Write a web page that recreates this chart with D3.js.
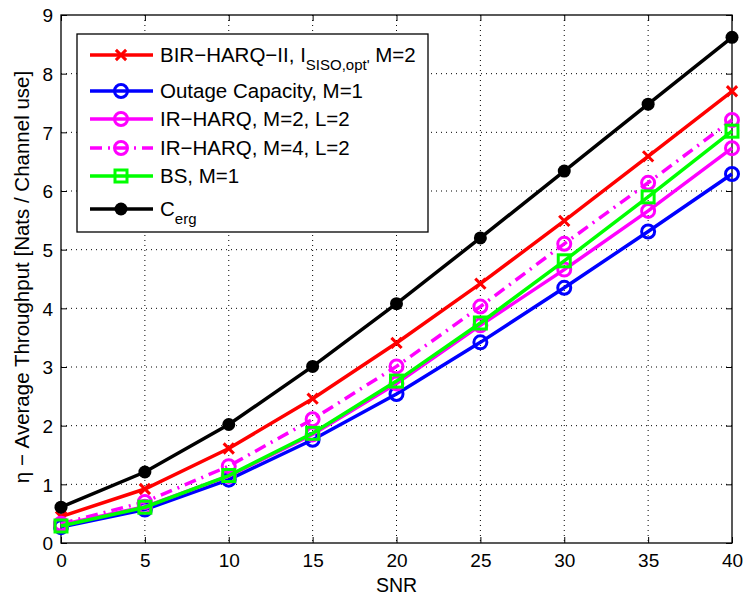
<!DOCTYPE html>
<html lang="en">
<head>
  <meta charset="UTF-8">
  <title>Average Throughput vs SNR</title>
  <style>
    body { margin: 0; background: #fff; }
    svg { display: block; font-family: "Liberation Sans", Arial, Helvetica, sans-serif; }
    .grid line { stroke: #000; stroke-width: 1; stroke-dasharray: 1, 4; }
    .tick-label { font-size: 19px; fill: #000; }
  </style>
</head>
<body>
  <script src="https://d3js.org/d3.v7.min.js"></script>
  <svg id="chart" width="744" height="598"></svg>
  <script>
    // data
    const snr = [0, 5, 10, 15, 20, 25, 30, 35, 40]
    const birHarq = [0.45, 0.92, 1.61, 2.46, 3.41, 4.42, 5.49, 6.59, 7.7]
    const outage = [0.27, 0.57, 1.08, 1.76, 2.54, 3.42, 4.35, 5.31, 6.29]
    const irHarq2 = [0.31, 0.62, 1.14, 1.85, 2.72, 3.71, 4.66, 5.66, 6.73]
    const irHarq4 = [0.33, 0.7, 1.31, 2.11, 3.01, 4.03, 5.1, 6.14, 7.21]
    const bs = [0.29, 0.61, 1.15, 1.87, 2.76, 3.75, 4.81, 5.9, 7.02]
    const cErg = [0.61, 1.21, 2.02, 3.01, 4.08, 5.2, 6.34, 7.48, 8.62]
    const xTicks = [0, 5, 10, 15, 20, 25, 30, 35, 40]
    const yTicks = [0, 1, 2, 3, 4, 5, 6, 7, 8, 9]

    const series = [
      {name: 'bir', values: birHarq, color: '#ff0000', marker: 'x', dash: null},
      {name: 'Outage Capacity, M=1', values: outage, color: '#0000ff', marker: 'o', dash: null},
      {name: 'IR\u2212HARQ, M=2, L=2', values: irHarq2, color: '#ff00ff', marker: 'o', dash: null},
      {name: 'IR\u2212HARQ, M=4, L=2', values: irHarq4, color: '#ff00ff', marker: 'o', dash: '12,6,2,6'},
      {name: 'BS, M=1', values: bs, color: '#00ff00', marker: 's', dash: null},
      {name: 'cerg', values: cErg, color: '#000000', marker: 'dot', dash: null}
    ]

    const margin = {top: 15, right: 12, bottom: 55, left: 61}
    const width = 744 - margin.left - margin.right
    const height = 598 - margin.top - margin.bottom

    const svg = d3.select('#chart')
    const g = svg.append('g').attr('transform', `translate(${margin.left},${margin.top})`)

    const x = d3.scaleLinear().domain([0, 40]).range([0, width])
    const y = d3.scaleLinear().domain([0, 9]).range([height, 0])

    // grid
    const grid = g.append('g').attr('class', 'grid')
    grid.selectAll('.gx').data(xTicks.slice(1, -1)).enter().append('line')
      .attr('x1', d => x(d)).attr('x2', d => x(d)).attr('y1', 0).attr('y2', height)
    grid.selectAll('.gy').data(yTicks.slice(1, -1)).enter().append('line')
      .attr('y1', d => y(d)).attr('y2', d => y(d)).attr('x1', 0).attr('x2', width)

    // axes (ticks pointing inward on all four sides)
    const tickLen = 6
    const xAxis = g.append('g').attr('transform', `translate(0,${height})`)
      .call(d3.axisBottom(x).tickValues(xTicks).tickSize(-tickLen).tickPadding(11))
    const xAxisTop = g.append('g')
      .call(d3.axisTop(x).tickValues(xTicks).tickSize(-tickLen).tickFormat(''))
    const yAxis = g.append('g')
      .call(d3.axisLeft(y).tickValues(yTicks).tickSize(-tickLen).tickPadding(8))
    const yAxisRight = g.append('g').attr('transform', `translate(${width},0)`)
      .call(d3.axisRight(y).tickValues(yTicks).tickSize(-tickLen).tickFormat(''))
    ;[xAxis, xAxisTop, yAxis, yAxisRight].forEach(a => {
      a.select('.domain').remove()
      a.selectAll('line').attr('stroke', '#000')
      a.selectAll('text').attr('class', 'tick-label').attr('font-family', null).attr('font-size', null)
    })
    yAxis.selectAll('text').attr('dy', '0.36em')

    g.append('rect').attr('width', width).attr('height', height)
      .attr('fill', 'none').attr('stroke', '#000').attr('stroke-width', 1.3)

    // marker helper
    function drawMarker(sel, type, color) {
      if (type === 'o') {
        sel.append('circle').attr('r', 6.5).attr('fill', 'none').attr('stroke', color).attr('stroke-width', 3)
      } else if (type === 'dot') {
        sel.append('circle').attr('r', 6.5).attr('fill', color)
      } else if (type === 's') {
        sel.append('rect').attr('x', -6).attr('y', -6).attr('width', 12).attr('height', 12)
          .attr('fill', 'none').attr('stroke', color).attr('stroke-width', 3)
      } else if (type === 'x') {
        sel.append('path').attr('d', d3.symbol(d3.symbolTimes, 70)())
          .attr('fill', 'none').attr('stroke', color).attr('stroke-width', 3)
      }
    }

    const line = d3.line().x((d, i) => x(snr[i])).y(d => y(d))

    series.forEach(s => {
      const sg = g.append('g')
      sg.append('path').datum(s.values)
        .attr('d', line)
        .attr('fill', 'none')
        .attr('stroke', s.color)
        .attr('stroke-width', 3.5)
        .attr('stroke-dasharray', s.dash)
      sg.selectAll('.m').data(s.values).enter().append('g')
        .attr('transform', (d, i) => `translate(${x(snr[i])},${y(d)})`)
        .each(function () { drawMarker(d3.select(this), s.marker, s.color) })
    })

    // legend
    const legend = svg.append('g').attr('transform', 'translate(77,34)')
    legend.append('rect').attr('width', 351).attr('height', 198)
      .attr('fill', '#fff').attr('stroke', '#000').attr('stroke-width', 1.3)
    const rowY = [21, 57, 85, 114, 142, 175]
    series.forEach((s, i) => {
      const row = legend.append('g').attr('transform', `translate(0,${rowY[i]})`)
      row.append('line').attr('x1', 13).attr('x2', 76).attr('y1', 0).attr('y2', 0)
        .attr('stroke', s.color).attr('stroke-width', 3.5).attr('stroke-dasharray', s.dash)
      drawMarker(row.append('g').attr('transform', 'translate(44,0)'), s.marker, s.color)
      const t = row.append('text').attr('x', 83).attr('y', 7).attr('font-size', 20.5)
      if (s.name === 'bir') {
        t.append('tspan').text('BIR\u2212HARQ\u2212II, I')
        t.append('tspan').attr('font-size', 15).attr('dy', 8).text("SISO,opt'")
        t.append('tspan').attr('dy', -8).text(' M=2')
      } else if (s.name === 'cerg') {
        t.append('tspan').text('C')
        t.append('tspan').attr('font-size', 15).attr('dy', 8).text('erg')
      } else {
        t.text(s.name)
      }
    })

    // axis titles
    svg.append('text').attr('x', margin.left + width / 2).attr('y', 592)
      .attr('text-anchor', 'middle').attr('font-size', 19.5).text('SNR')
    svg.append('text').attr('transform', 'translate(29,277) rotate(-90)')
      .attr('text-anchor', 'middle').attr('font-size', 20.5)
      .text('\u03b7 \u2212 Average Throughput [Nats / Channel use]')
  </script>
</body>
</html>
